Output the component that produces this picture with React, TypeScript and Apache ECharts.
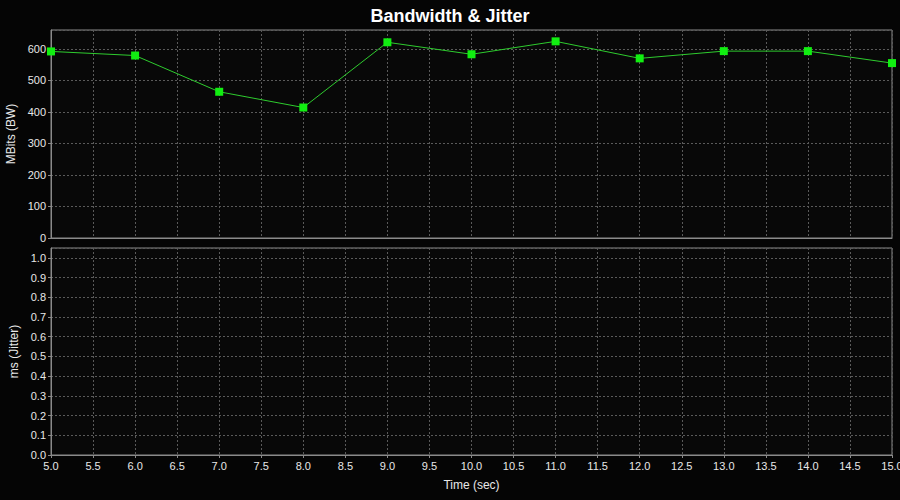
import React, { useEffect, useRef } from "react";
import * as echarts from "echarts";

const timeSec = [5, 6, 7, 8, 9, 10, 11, 12, 13, 14, 15];
const bandwidth = [592, 579, 464, 414, 621, 583, 624, 570, 593, 593, 555];
const jitter: number[] = [];

const FONT = "Liberation Sans, Arial, sans-serif";
const GRID_COLOR = "#5a5a5a";
const AXIS_COLOR = "#8a8a8a";
const LABEL_COLOR = "#e8e8e8";

export default function App() {
  const ref = useRef<HTMLDivElement>(null);
  useEffect(() => {
    if (!ref.current) return;
    const chart = echarts.init(ref.current, undefined, { renderer: "svg" });
    const xCommon = {
      type: "value" as const,
      min: 5,
      max: 15,
      interval: 0.5,
      axisLine: { show: true, lineStyle: { color: AXIS_COLOR } },
      axisTick: { show: true, length: 3, lineStyle: { color: AXIS_COLOR } },
      splitLine: { show: true, lineStyle: { color: GRID_COLOR, type: [2, 2] as any } },
    };
    chart.setOption({
      animation: false,
      backgroundColor: "#050505",
      title: {
        text: "Bandwidth & Jitter",
        left: "center",
        top: 2,
        textStyle: { color: "#ffffff", fontSize: 18, fontWeight: "bold", fontFamily: FONT },
      },
      grid: [
        { left: 51, right: 8, top: 30, height: 208, show: true, borderColor: AXIS_COLOR, backgroundColor: "#080808", outerBoundsMode: "none", containLabel: false },
        { left: 51, right: 8, top: 248, height: 207, show: true, borderColor: AXIS_COLOR, backgroundColor: "#080808", outerBoundsMode: "none", containLabel: false },
      ],
      xAxis: [
        { ...xCommon, gridIndex: 0, axisLabel: { show: false }, axisTick: { show: false } },
        {
          ...xCommon,
          gridIndex: 1,
          name: "Time (sec)",
          nameLocation: "middle",
          nameGap: 24,
          nameTextStyle: { color: LABEL_COLOR, fontSize: 12, fontFamily: FONT },
          axisLabel: {
            color: LABEL_COLOR,
            fontSize: 11,
            fontFamily: FONT,
            margin: 5,
            formatter: (v: number) => v.toFixed(1),
          },
        },
      ],
      yAxis: [
        {
          type: "value",
          gridIndex: 0,
          min: 0,
          max: 660,
          interval: 100,
          name: "MBits (BW)",
          nameLocation: "middle",
          nameGap: 30,
          nameTextStyle: { color: LABEL_COLOR, fontSize: 12, fontFamily: FONT },
          axisLine: { show: true, lineStyle: { color: AXIS_COLOR } },
          axisTick: { show: true, length: 3, lineStyle: { color: AXIS_COLOR } },
          axisLabel: { color: LABEL_COLOR, fontSize: 11, fontFamily: FONT, margin: 5, showMaxLabel: false },
          splitLine: { show: true, lineStyle: { color: GRID_COLOR, type: [2, 2] } },
        },
        {
          type: "value",
          gridIndex: 1,
          min: 0,
          max: 1.05,
          interval: 0.1,
          name: "ms (Jitter)",
          nameLocation: "middle",
          nameGap: 30,
          nameTextStyle: { color: LABEL_COLOR, fontSize: 12, fontFamily: FONT },
          axisLine: { show: true, lineStyle: { color: AXIS_COLOR } },
          axisTick: { show: true, length: 3, lineStyle: { color: AXIS_COLOR } },
          axisLabel: {
            color: LABEL_COLOR,
            fontSize: 11,
            fontFamily: FONT,
            margin: 5,
            showMaxLabel: false,
            formatter: (v: number) => v.toFixed(1),
          },
          splitLine: { show: true, lineStyle: { color: GRID_COLOR, type: [2, 2] } },
        },
      ],
      series: [
        {
          type: "line",
          name: "Bandwidth",
          xAxisIndex: 0,
          yAxisIndex: 0,
          data: timeSec.map((t, i) => [t, bandwidth[i]]),
          lineStyle: { color: "#2ecc2e", width: 1 },
          itemStyle: { color: "#11ee11" },
          symbol: "rect",
          symbolSize: 8,
          clip: false,
        },
        {
          type: "line",
          name: "Jitter",
          xAxisIndex: 1,
          yAxisIndex: 1,
          data: jitter.map((v, i) => [timeSec[i], v]),
          lineStyle: { color: "#2ecc2e", width: 1 },
          itemStyle: { color: "#11ee11" },
          symbol: "rect",
          symbolSize: 8,
        },
      ],
    });
    return () => chart.dispose();
  }, []);
  return <div ref={ref} style={{ width: 900, height: 500, position: "fixed", left: 0, top: 0 }} />;
}
